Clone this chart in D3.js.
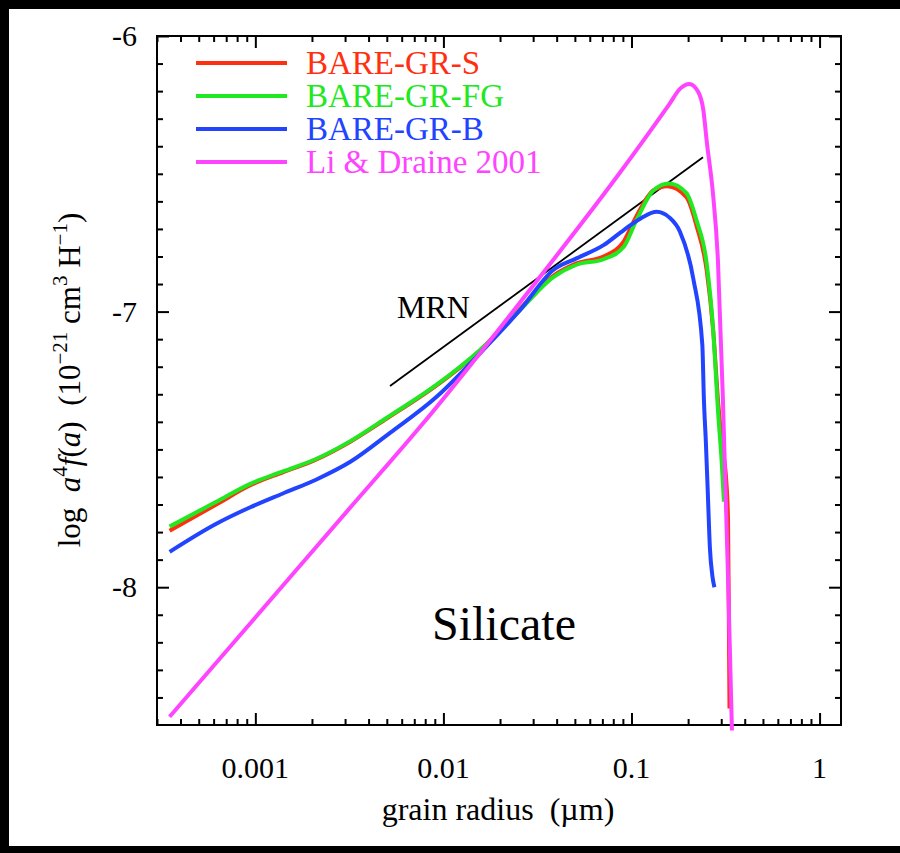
<!DOCTYPE html>
<html>
<head>
<meta charset="utf-8">
<script src="https://cdn.jsdelivr.net/npm/d3@7"></script>
<style>
  body { margin: 0; background: #000; }
  svg { display: block; }
  text { font-family: "Liberation Serif", "Times New Roman", serif; fill: #000; }
</style>
</head>
<body>
<script>
// Grain radius in micron, log10 of a^4 f(a)
var radiusS = [0.00035, 0.00062, 0.00094, 0.0014, 0.0021, 0.0032, 0.005, 0.0092, 0.0156, 0.0255, 0.0384, 0.051, 0.071, 0.091, 0.106, 0.131, 0.155, 0.196, 0.222, 0.251, 0.272, 0.289, 0.305, 0.318, 0.326, 0.330, 0.332];
var logS    = [-7.795, -7.70, -7.63, -7.583, -7.537, -7.472, -7.388, -7.268, -7.142, -6.99, -6.87, -6.825, -6.80, -6.745, -6.655, -6.56, -6.545, -6.585, -6.69, -6.85, -7.07, -7.33, -7.5, -7.6, -7.75, -8.2, -8.44];

var radiusFG = [0.00035, 0.00062, 0.00094, 0.0014, 0.0021, 0.0032, 0.005, 0.0092, 0.0156, 0.0255, 0.0384, 0.051, 0.071, 0.091, 0.106, 0.131, 0.158, 0.196, 0.222, 0.251, 0.272, 0.289, 0.302, 0.31];
var logFG    = [-7.78, -7.69, -7.625, -7.58, -7.535, -7.47, -7.385, -7.265, -7.14, -6.995, -6.875, -6.83, -6.81, -6.765, -6.67, -6.56, -6.535, -6.57, -6.67, -6.825, -7.07, -7.37, -7.55, -7.69];

var radiusB = [0.00035, 0.00062, 0.00094, 0.0014, 0.0021, 0.0032, 0.0052, 0.0092, 0.0156, 0.0255, 0.0384, 0.051, 0.071, 0.091, 0.113, 0.136, 0.16, 0.181, 0.213, 0.238, 0.2427, 0.2487, 0.2548, 0.2612, 0.2693, 0.276];
var logB    = [-7.872, -7.77, -7.71, -7.66, -7.61, -7.545, -7.44, -7.309, -7.152, -6.995, -6.849, -6.807, -6.759, -6.704, -6.66, -6.638, -6.66, -6.71, -6.88, -7.12, -7.32, -7.477, -7.666, -7.858, -7.96, -8.0];

var radiusLD = [0.00035, 0.001, 0.00316, 0.0075, 0.0316, 0.0838, 0.158, 0.182, 0.203, 0.2265, 0.241, 0.2518, 0.271, 0.2881, 0.3063, 0.3256, 0.342];
var logLD    = [-8.47, -8.11, -7.715, -7.419, -6.886, -6.51, -6.25, -6.19, -6.174, -6.203, -6.269, -6.388, -6.57, -6.813, -7.321, -7.949, -8.52];

// MRN power law end points
var radiusMRN = [0.0052, 0.24];
var logMRN    = [-7.27, -6.44];

var seriesNames = ["BARE-GR-S", "BARE-GR-FG", "BARE-GR-B", "Li & Draine 2001"];
var seriesColors = ["#ff3010", "#22e822", "#2244ff", "#ff44ff"];

var xTickValues = [0.001, 0.01, 0.1, 1];
var xTickLabels = ["0.001", "0.01", "0.1", "1"];
var yTickValues = [-8, -7, -6];
var yTickLabels = ["-8", "-7", "-6"];

// Frame edges
var frame = {left: 157, right: 841, top: 36, bottom: 725};

var svg = d3.select("body").append("svg")
    .attr("width", 900)
    .attr("height", 853);

svg.append("rect").attr("width", 900).attr("height", 853).attr("fill", "#000");
svg.append("rect").attr("x", 9).attr("y", 9).attr("width", 891).attr("height", 837).attr("fill", "#fff");

var x = d3.scaleLog().domain([3e-4, 1.3]).range([frame.left, frame.right]);
var y = d3.scaleLinear().domain([-8.5, -6]).range([frame.bottom, frame.top]);

// minor ticks
var xMinor = [];
[1e-4, 1e-3, 1e-2, 1e-1, 1].forEach(function(d) {
  for (var k = 2; k <= 9; k++) {
    var v = d * k;
    if (v > 3e-4 && v < 1.3) xMinor.push(v);
  }
});
var yMinor = d3.range(-8.4, -6.0, 0.1).filter(function(v) {
  return Math.abs(v - Math.round(v)) > 0.01;
});

function styleAxis(g) {
  g.select(".domain").remove();
  g.selectAll("line").attr("stroke", "#000").attr("stroke-width", 2);
  g.selectAll("text").remove();
}

// bottom and top
svg.append("g").attr("transform", "translate(0," + frame.bottom + ")")
  .call(d3.axisBottom(x).tickValues(xTickValues).tickSize(-12)).call(styleAxis);
svg.append("g").attr("transform", "translate(0," + frame.bottom + ")")
  .call(d3.axisBottom(x).tickValues(xMinor).tickSize(-6)).call(styleAxis);
svg.append("g").attr("transform", "translate(0," + frame.top + ")")
  .call(d3.axisTop(x).tickValues(xTickValues).tickSize(-12)).call(styleAxis);
svg.append("g").attr("transform", "translate(0," + frame.top + ")")
  .call(d3.axisTop(x).tickValues(xMinor).tickSize(-6)).call(styleAxis);

// left and right
svg.append("g").attr("transform", "translate(" + frame.left + ",0)")
  .call(d3.axisLeft(y).tickValues(yTickValues).tickSize(-12)).call(styleAxis);
svg.append("g").attr("transform", "translate(" + frame.left + ",0)")
  .call(d3.axisLeft(y).tickValues(yMinor).tickSize(-6)).call(styleAxis);
svg.append("g").attr("transform", "translate(" + frame.right + ",0)")
  .call(d3.axisRight(y).tickValues(yTickValues).tickSize(-12)).call(styleAxis);
svg.append("g").attr("transform", "translate(" + frame.right + ",0)")
  .call(d3.axisRight(y).tickValues(yMinor).tickSize(-6)).call(styleAxis);

// frame box
svg.append("rect")
  .attr("x", frame.left).attr("y", frame.top)
  .attr("width", frame.right - frame.left).attr("height", frame.bottom - frame.top)
  .attr("fill", "none").attr("stroke", "#000").attr("stroke-width", 2);

// tick labels
svg.selectAll(".xlab").data(xTickValues).enter().append("text")
  .attr("x", function(d) { return x(d); })
  .attr("y", 778)
  .attr("text-anchor", "middle")
  .style("font-size", "30px")
  .text(function(d, i) { return xTickLabels[i]; });

svg.selectAll(".ylab").data(yTickValues).enter().append("text")
  .attr("x", 137)
  .attr("y", function(d) { return y(d) + 10; })
  .attr("text-anchor", "end")
  .style("font-size", "30px")
  .text(function(d, i) { return yTickLabels[i]; });

// axis titles
svg.append("text")
  .attr("x", 498).attr("y", 820)
  .attr("text-anchor", "middle")
  .style("font-size", "32px")
  .style("white-space", "pre")
  .text("grain radius  (\u00b5m)");

var yt = svg.append("text")
  .attr("transform", "translate(80,380) rotate(-90)")
  .attr("text-anchor", "middle")
  .style("font-size", "31px")
  .style("white-space", "pre");
yt.append("tspan").text("log  ");
yt.append("tspan").style("font-style", "italic").text("a");
yt.append("tspan").attr("dy", -13).style("font-size", "21px").text("4");
yt.append("tspan").attr("dy", 13).style("font-style", "italic").text("f");
yt.append("tspan").text("(");
yt.append("tspan").style("font-style", "italic").text("a");
yt.append("tspan").text(")  (10");
yt.append("tspan").attr("dy", -13).style("font-size", "21px").text("\u221221");
yt.append("tspan").attr("dy", 13).text(" cm");
yt.append("tspan").attr("dy", -13).style("font-size", "21px").text("3");
yt.append("tspan").attr("dy", 13).text(" H");
yt.append("tspan").attr("dy", -13).style("font-size", "21px").text("\u22121");
yt.append("tspan").attr("dy", 13).text(")");

// curves
var line = d3.line()
  .x(function(d) { return x(d[0]); })
  .y(function(d) { return y(d[1]); })
  .curve(d3.curveMonotoneX);

function pairs(a, v) { return a.map(function(d, i) { return [d, v[i]]; }); }

// MRN
svg.append("path")
  .datum(pairs(radiusMRN, logMRN))
  .attr("d", d3.line().x(function(d) { return x(d[0]); }).y(function(d) { return y(d[1]); }))
  .attr("fill", "none").attr("stroke", "#000").attr("stroke-width", 1.8);

var series = [pairs(radiusS, logS), pairs(radiusFG, logFG), pairs(radiusB, logB), pairs(radiusLD, logLD)];
series.forEach(function(s, i) {
  svg.append("path")
    .datum(s)
    .attr("d", line)
    .attr("fill", "none")
    .attr("stroke", seriesColors[i])
    .attr("stroke-width", 4);
});

// labels
svg.append("text").attr("x", 397).attr("y", 318).style("font-size", "32px").text("MRN");
svg.append("text").attr("x", 432).attr("y", 640).style("font-size", "48px").text("Silicate");

// legend
var legend = svg.selectAll(".leg").data(seriesNames).enter().append("g")
  .attr("transform", function(d, i) { return "translate(196," + (63 + i * 33) + ")"; });
legend.append("line")
  .attr("x1", 0).attr("x2", 91)
  .attr("stroke", function(d, i) { return seriesColors[i]; })
  .attr("stroke-width", 4);
legend.append("text")
  .attr("x", 110).attr("y", 11)
  .style("font-size", "33px")
  .style("fill", function(d, i) { return seriesColors[i]; })
  .text(function(d) { return d; });
</script>
</body>
</html>
